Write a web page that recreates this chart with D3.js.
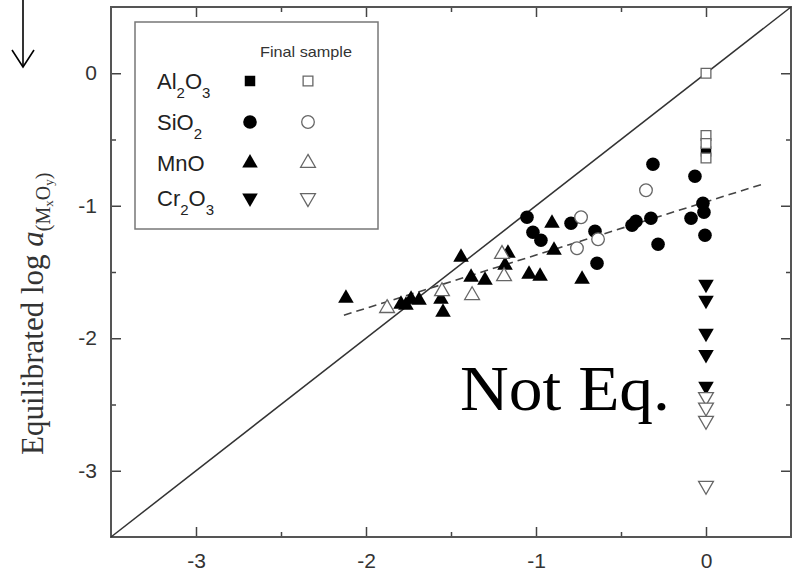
<!DOCTYPE html>
<html>
<head>
<meta charset="utf-8">
<script src="https://cdn.jsdelivr.net/npm/d3@7/dist/d3.min.js"></script>
<style>
  html, body { margin: 0; padding: 0; background: #fff; }
  svg { display: block; }
</style>
</head>
<body>
<svg id="chart" width="794" height="574"></svg>
<script>
// ---------------- data ----------------
const xTicks = [-3, -2, -1, 0];
const yTicks = [0, -1, -2, -3];
const minorTicks = [-2.5, -1.5, -0.5];

const al2o3FilledX = [0];
const al2o3FilledY = [-0.59];
const al2o3OpenX = [0, 0, 0, 0];
const al2o3OpenY = [0.0, -0.47, -0.53, -0.64];

const sio2FilledX = [-1.053, -1.018, -0.971, -0.794, -0.653, -0.641, -0.435, -0.412, -0.324, -0.312, -0.282, -0.088, -0.065, -0.018, -0.012, -0.006];
const sio2FilledY = [-1.087, -1.200, -1.260, -1.132, -1.192, -1.434, -1.147, -1.117, -1.094, -0.687, -1.291, -1.094, -0.777, -0.981, -1.049, -1.223];
const sio2OpenX = [-0.735, -0.759, -0.635, -0.353];
const sio2OpenY = [-1.087, -1.321, -1.253, -0.883];

const mnoFilledX = [-2.118, -1.794, -1.765, -1.735, -1.688, -1.559, -1.547, -1.441, -1.382, -1.300, -1.182, -1.165, -1.041, -0.976, -0.906, -0.894, -0.729];
const mnoFilledY = [-1.691, -1.736, -1.743, -1.698, -1.706, -1.698, -1.796, -1.381, -1.532, -1.555, -1.442, -1.351, -1.509, -1.525, -1.125, -1.328, -1.547];
const mnoOpenX = [-1.876, -1.553, -1.376, -1.200, -1.188];
const mnoOpenY = [-1.766, -1.638, -1.668, -1.358, -1.525];

const cr2o3FilledX = [0, 0, 0, 0, 0];
const cr2o3FilledY = [-1.60, -1.72, -1.97, -2.13, -2.37];
const cr2o3OpenX = [0, 0, 0, 0];
const cr2o3OpenY = [-2.45, -2.53, -2.63, -3.12];

const fitX = [-2.13, 0.35];
const fitY = [-1.826, -0.83];
const diagX = [-3.5, 0.5];
const diagY = [-3.5, 0.5];

const legendNames = [
  [["Al", 0], ["2", 1], ["O", 0], ["3", 1]],
  [["SiO", 0], ["2", 1]],
  [["MnO", 0]],
  [["Cr", 0], ["2", 1], ["O", 0], ["3", 1]]
];
const legendShapes = ["square", "circle", "up", "down"];

// ---------------- setup ----------------
const svg = d3.select("#chart");
const x = d3.scaleLinear().domain([-3.5, 0.5]).range([111, 791]);
const y = d3.scaleLinear().domain([-3.5, 0.5]).range([537, 7]);
const axisColor = "#444";
const labelFont = "'Liberation Sans', Arial, sans-serif";

svg.append("rect").attr("width", 794).attr("height", 574).attr("fill", "#fff");

// top-left arrow
const arrow = svg.append("g").attr("stroke", "#000").attr("stroke-width", 1.6).attr("fill", "none");
arrow.append("line").attr("x1", 23).attr("y1", 0).attr("x2", 23).attr("y2", 67);
arrow.append("polyline").attr("points", "12,50 23,67 34,50");

// axes
function styleAxis(g) {
  g.select(".domain").remove();
  g.selectAll(".tick line").attr("stroke", axisColor).attr("stroke-width", 1.5);
  g.selectAll(".tick text").attr("fill", "#333").attr("font-family", labelFont).attr("font-size", 21);
}
const fmt = d => String(d);
svg.append("g").attr("transform", "translate(0,537)")
  .call(d3.axisBottom(x).tickValues(xTicks).tickSize(-10).tickPadding(16).tickFormat(fmt)).call(styleAxis);
svg.append("g").attr("transform", "translate(0,537)")
  .call(d3.axisBottom(x).tickValues(minorTicks).tickSize(-5).tickFormat("")).call(styleAxis);
svg.append("g").attr("transform", "translate(0,7)")
  .call(d3.axisTop(x).tickValues(xTicks).tickSize(-10).tickFormat("")).call(styleAxis);
svg.append("g").attr("transform", "translate(0,7)")
  .call(d3.axisTop(x).tickValues(minorTicks).tickSize(-5).tickFormat("")).call(styleAxis);
svg.append("g").attr("transform", "translate(111,0)")
  .call(d3.axisLeft(y).tickValues(yTicks).tickSize(-10).tickPadding(14).tickFormat(fmt)).call(styleAxis);
svg.append("g").attr("transform", "translate(111,0)")
  .call(d3.axisLeft(y).tickValues(minorTicks).tickSize(-5).tickFormat("")).call(styleAxis);
svg.append("g").attr("transform", "translate(791,0)")
  .call(d3.axisRight(y).tickValues(yTicks).tickSize(-10).tickFormat("")).call(styleAxis);
svg.append("g").attr("transform", "translate(791,0)")
  .call(d3.axisRight(y).tickValues(minorTicks).tickSize(-5).tickFormat("")).call(styleAxis);

// frame
svg.append("rect").attr("x", x(-3.5)).attr("y", y(0.5))
  .attr("width", x(0.5) - x(-3.5)).attr("height", y(-3.5) - y(0.5))
  .attr("fill", "none").attr("stroke", "#555").attr("stroke-width", 2);

// lines
const lineGen = d3.line().x(d => x(d[0])).y(d => y(d[1]));
svg.append("path").datum(d3.zip(diagX, diagY)).attr("d", lineGen)
  .attr("stroke", "#333").attr("stroke-width", 1.5).attr("fill", "none");
svg.append("path").datum(d3.zip(fitX, fitY)).attr("d", lineGen)
  .attr("stroke", "#444").attr("stroke-width", 1.6).attr("fill", "none").attr("stroke-dasharray", "8,5");

// markers
const symbolPath = {
  square: d3.symbol().type(d3.symbolSquare).size(110)(),
  circle: d3.symbol().type(d3.symbolCircle).size(145)(),
  up: d3.symbol().type(d3.symbolTriangle).size(105)(),
  down: d3.symbol().type(d3.symbolTriangle).size(105)()
};
const openSymbolPath = {
  square: d3.symbol().type(d3.symbolSquare).size(95)(),
  circle: d3.symbol().type(d3.symbolCircle).size(125)(),
  up: d3.symbol().type(d3.symbolTriangle).size(95)(),
  down: d3.symbol().type(d3.symbolTriangle).size(95)()
};
function drawMarkers(xs, ys, shape, filled) {
  const pts = d3.zip(xs, ys);
  svg.append("g").selectAll("path").data(pts).join("path")
    .attr("d", filled ? symbolPath[shape] : openSymbolPath[shape])
    .attr("transform", d => `translate(${x(d[0])},${y(d[1]) + (shape === "up" ? 1 : shape === "down" ? -1 : 0)})` + (shape === "down" ? " rotate(180)" : ""))
    .attr("fill", filled ? "#000" : "#fff")
    .attr("stroke", filled ? "none" : "#666")
    .attr("stroke-width", 1.3);
}
drawMarkers(al2o3FilledX, al2o3FilledY, "square", true);
drawMarkers(sio2FilledX, sio2FilledY, "circle", true);
drawMarkers(mnoFilledX, mnoFilledY, "up", true);
drawMarkers(cr2o3FilledX, cr2o3FilledY, "down", true);
drawMarkers(al2o3OpenX, al2o3OpenY, "square", false);
drawMarkers(sio2OpenX, sio2OpenY, "circle", false);
drawMarkers(mnoOpenX, mnoOpenY, "up", false);
drawMarkers(cr2o3OpenX, cr2o3OpenY, "down", false);

// legend
const lg = svg.append("g");
lg.append("rect").attr("x", 135).attr("y", 22).attr("width", 243).attr("height", 207)
  .attr("fill", "#fff").attr("stroke", "#777").attr("stroke-width", 1.5);
lg.append("text").attr("x", 260).attr("y", 57).attr("font-family", labelFont)
  .attr("font-size", 14.5).attr("fill", "#333")
  .attr("textLength", 92).attr("lengthAdjust", "spacingAndGlyphs").text("Final sample");
const rowY = [81, 122, 163, 198];
legendNames.forEach((parts, i) => {
  const t = lg.append("text").attr("x", 157).attr("y", rowY[i] + 8)
    .attr("font-family", labelFont).attr("font-size", 22).attr("fill", "#222");
  let prevSub = 0;
  parts.forEach(([s, sub]) => {
    const dy = (sub - prevSub) * 9;
    t.append("tspan").attr("dy", dy).attr("font-size", sub ? 15 : 22).text(s);
    prevSub = sub;
  });
  const shape = legendShapes[i];
  lg.append("path").attr("d", symbolPath[shape])
    .attr("transform", `translate(250,${rowY[i]})` + (shape === "down" ? " rotate(180)" : ""))
    .attr("fill", "#000");
  lg.append("path").attr("d", openSymbolPath[shape])
    .attr("transform", `translate(308,${rowY[i]})` + (shape === "down" ? " rotate(180)" : ""))
    .attr("fill", "#fff").attr("stroke", "#666").attr("stroke-width", 1.3);
});

// y axis title
const yt = svg.append("text").attr("transform", "translate(43,455) rotate(-90)")
  .attr("font-family", "'Liberation Serif', 'Times New Roman', serif")
  .attr("font-size", 31).attr("fill", "#333");
yt.append("tspan").text("Equilibrated log ");
yt.append("tspan").attr("font-style", "italic").text("a");
yt.append("tspan").attr("font-size", 20).attr("dy", 7).text("(M");
yt.append("tspan").attr("font-size", 13).attr("dy", 3).text("x");
yt.append("tspan").attr("font-size", 20).attr("dy", -3).text("O");
yt.append("tspan").attr("font-size", 13).attr("dy", 3).text("y");
yt.append("tspan").attr("font-size", 20).attr("dy", -3).text(")");

// annotation
svg.append("text").attr("x", 460).attr("y", 410)
  .attr("font-family", "'Liberation Serif', 'Times New Roman', serif")
  .attr("font-size", 63).attr("fill", "#000")
  .attr("textLength", 210).attr("lengthAdjust", "spacingAndGlyphs")
  .text("Not Eq.");
</script>
</body>
</html>
